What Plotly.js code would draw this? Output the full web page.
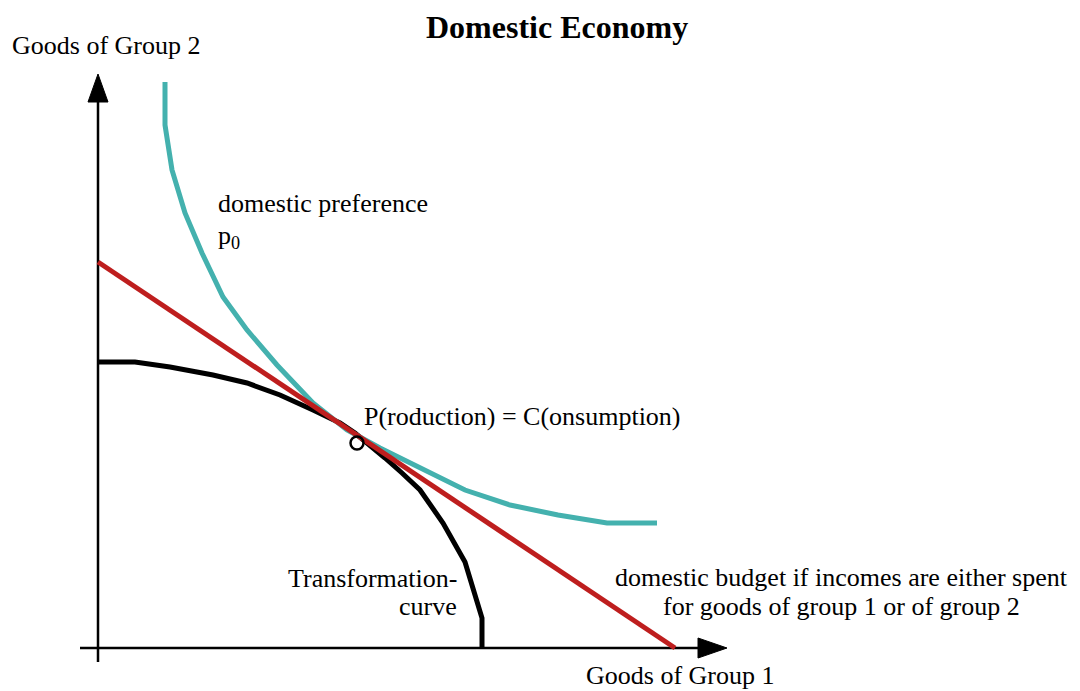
<!DOCTYPE html>
<html>
<head>
<meta charset="utf-8">
<script src="https://cdn.plot.ly/plotly-3.0.1.min.js"></script>
<style>html,body{margin:0;padding:0;background:#fff;}#chart{width:1080px;height:691px;}</style>
</head>
<body>
<div id="chart"></div>
<script>
// Data in diagram units (origin at the axes' intersection)
const prefX = [67, 67, 74, 87, 104, 125, 149, 179, 215, 249, 282, 322, 367, 412, 460, 509, 559];
const prefY = [566, 523, 478, 435, 395, 351, 318, 283, 245, 218, 200, 180, 158, 143, 133, 125, 125];

const budgetX = [0, 577];
const budgetY = [386, 0];

const transX = [0, 37, 72, 115, 149, 182, 215, 242, 257, 272, 287, 304, 322, 345, 367, 384, 384];
const transY = [286, 286, 281, 273, 265, 253, 238, 225, 215, 203, 190, 175, 158, 125, 86, 30, 0];

const pointX = [259];
const pointY = [205];

const yAxisX = [0, 0];
const yAxisY = [-14, 546];
const yArrowX = [-10, 0, 10, -10];
const yArrowY = [546, 574, 546, 546];

const xAxisX = [-18, 602];
const xAxisY = [0, 0];
const xArrowX = [600, 629, 600, 600];
const xArrowY = [10, 0, -10, 10];

const FONT = "Liberation Serif, Times New Roman, Times, serif";
const CYAN = "#44b1ae";
const RED = "#be1e1e";

const traces = [
  {x: yAxisX, y: yAxisY, mode: 'lines', line: {color: '#000', width: 2.5}},
  {x: yArrowX, y: yArrowY, mode: 'lines', fill: 'toself', fillcolor: '#000', line: {color: '#000', width: 1}},
  {x: xAxisX, y: xAxisY, mode: 'lines', line: {color: '#000', width: 2.5}},
  {x: xArrowX, y: xArrowY, mode: 'lines', fill: 'toself', fillcolor: '#000', line: {color: '#000', width: 1}},
  {x: transX, y: transY, mode: 'lines', line: {color: '#000', width: 5}},
  {x: prefX, y: prefY, mode: 'lines', line: {color: CYAN, width: 5}},
  {x: budgetX, y: budgetY, mode: 'lines', line: {color: RED, width: 5}},
  {x: pointX, y: pointY, mode: 'markers', marker: {symbol: 'circle-open', size: 13, color: '#000', line: {width: 2.5, color: '#000'}}}
];

function ann(text, x, y, xanchor, size, bold) {
  return {text: bold ? '<b>' + text + '</b>' : text, x: x, y: y, xref: 'x', yref: 'y',
    xanchor: xanchor, yanchor: 'middle', showarrow: false,
    font: {family: FONT, size: size, color: '#000'}};
}

const layout = {
  width: 1080, height: 691,
  margin: {l: 0, r: 0, t: 0, b: 0},
  paper_bgcolor: '#fff', plot_bgcolor: '#fff',
  showlegend: false,
  font: {family: FONT},
  xaxis: {range: [-98, 982], visible: false, fixedrange: true},
  yaxis: {range: [-43, 648], visible: false, fixedrange: true},
  annotations: [
    ann('Domestic Economy', 459, 621, 'center', 32, true),
    ann('Goods of Group 2', -88, 603, 'left', 26),
    ann('domestic preference', 118, 445, 'left', 26),
    ann('p<sub>0</sub>', 118, 411, 'left', 26),
    ann('P(roduction) = C(onsumption)', 264, 232, 'left', 26),
    ann('Transformation-', 361, 70, 'right', 26),
    ann('curve', 361, 42, 'right', 26),
    ann('domestic budget if incomes are either spent', 743, 71, 'center', 26),
    ann('for goods of group 1 or of group 2', 743, 42, 'center', 26),
    ann('Goods of Group 1', 486, -27, 'left', 26)
  ]
};

Plotly.newPlot('chart', traces, layout, {staticPlot: true, displayModeBar: false});
</script>
</body>
</html>
